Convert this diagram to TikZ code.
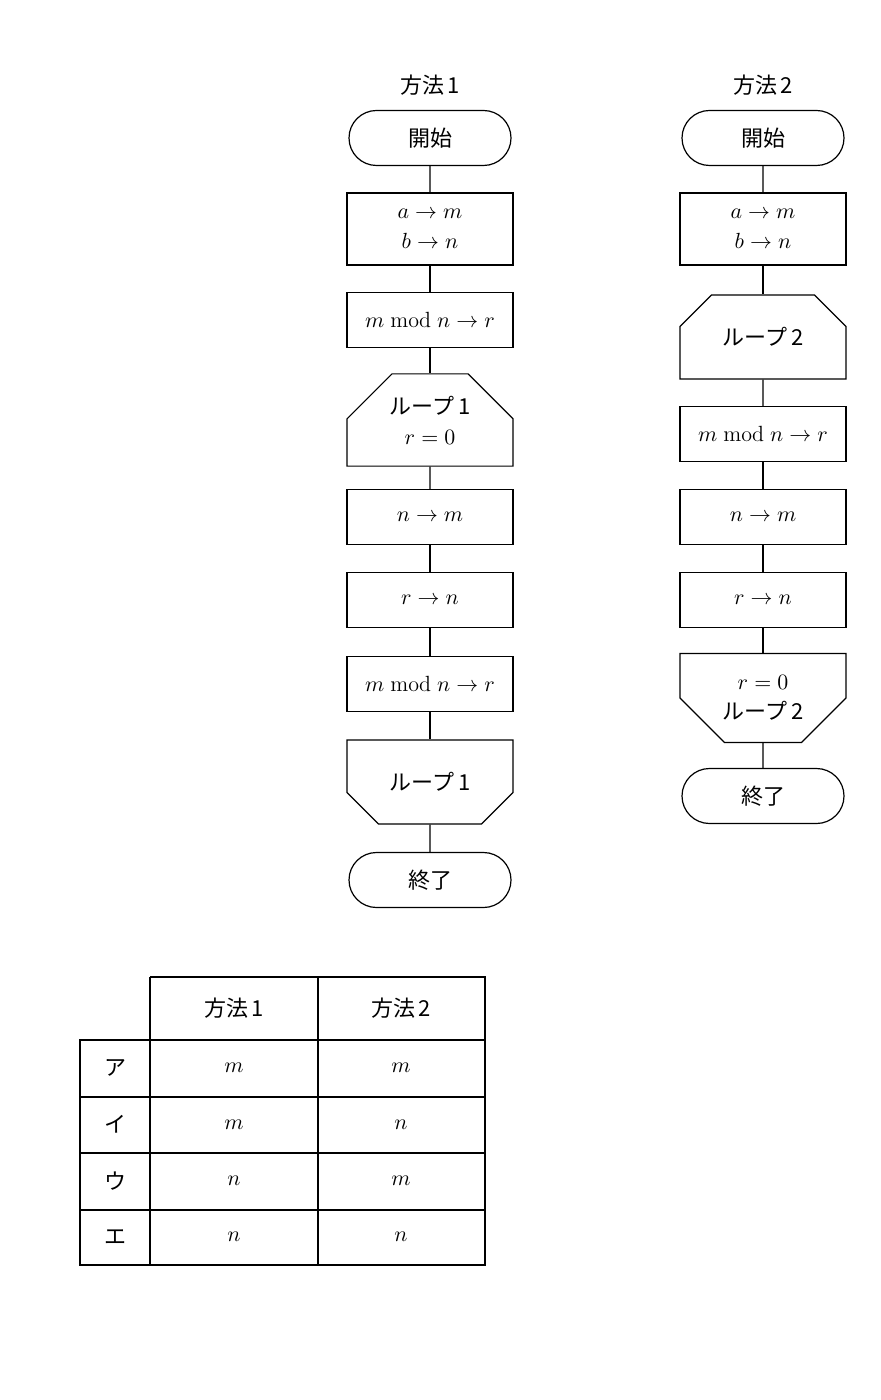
\documentclass[tikz,border=0pt]{standalone}
\usepackage{fontspec}
\newfontfamily\cjk{Noto Sans CJK JP}
\usetikzlibrary{shapes.misc}
\tikzset{
  base/.style={draw, line width=0.6pt, minimum width=83pt, inner sep=1pt, align=center, font=\cjk\fontsize{11}{15}\selectfont},
  term/.style={base, rounded rectangle, minimum height=27.5pt},
  proc/.style={base, rectangle, minimum height=27.5pt},
  loopbeg/.style={base, chamfered rectangle, chamfered rectangle corners={north west,north east}, chamfered rectangle xsep=12.5pt, chamfered rectangle ysep=10pt, minimum height=42pt},
  loopend/.style={base, chamfered rectangle, chamfered rectangle corners={south west,south east}, chamfered rectangle xsep=12.5pt, chamfered rectangle ysep=10pt, minimum height=42pt},
  ttl/.style={font=\cjk\fontsize{11}{14}\selectfont},
  cell/.style={font=\cjk\fontsize{11}{14}\selectfont},
  flow/.style={line width=0.6pt}
}
\begin{document}
\begin{tikzpicture}[x=0.5pt,y=-0.5pt]
  \useasboundingbox (0,0) rectangle (880,1400);

  % method 1
  \node[ttl] (t1) at (430,85) {方法$\,$1};
  \node[term] (s1) at (430,138) {開始};
  \node[proc, minimum height=36pt] (ab1) at (430,229) {$a\to m$\\$b\to n$};
  \node[proc] (md1) at (430,320) {$m\bmod n\to r$};
  \node[loopbeg] (lb1) at (430,420) {ループ$\,$1\\$r=0$};
  \node[proc] (nm1) at (430,517) {$n\to m$};
  \node[proc] (rn1) at (430,600) {$r\to n$};
  \node[proc] (mr1) at (430,684) {$m\bmod n\to r$};
  \node[loopend] (le1) at (430,782) {ループ$\,$1};
  \node[term] (e1) at (430,880) {終了};
  \foreach \a/\b in {s1/ab1,ab1/md1,md1/lb1,lb1/nm1,nm1/rn1,rn1/mr1,mr1/le1,le1/e1}
    \draw[flow] (\a) -- (\b);

  % method 2
  \node[ttl] (t2) at (763,85) {方法$\,$2};
  \node[term] (s2) at (763,138) {開始};
  \node[proc, minimum height=36pt] (ab2) at (763,229) {$a\to m$\\$b\to n$};
  \node[loopbeg] (lb2) at (763,337) {ループ$\,$2};
  \node[proc] (md2) at (763,434) {$m\bmod n\to r$};
  \node[proc] (nm2) at (763,517) {$n\to m$};
  \node[proc] (rn2) at (763,600) {$r\to n$};
  \node[loopend] (le2) at (763,698) {$r=0$\\ループ$\,$2};
  \node[term] (e2) at (763,796) {終了};
  \foreach \a/\b in {s2/ab2,ab2/lb2,lb2/md2,md2/nm2,nm2/rn2,rn2/le2,le2/e2}
    \draw[flow] (\a) -- (\b);

  % table
  \draw[line width=0.6pt] (150,977) -- (485,977) -- (485,1265) -- (80,1265) -- (80,1040) -- (485,1040);
  \draw[line width=0.6pt] (150,977) -- (150,1265);
  \draw[line width=0.6pt] (318,977) -- (318,1265);
  \foreach \y in {1097,1153,1210}
    \draw[line width=0.6pt] (80,\y) -- (485,\y);
  \node[cell] (h1) at (234,1008) {方法$\,$1};
  \node[cell] (h2) at (401,1008) {方法$\,$2};
  \foreach \k/\c/\p/\q [count=\i] in {ア/m/m/m, イ/i/m/n, ウ/u/n/m, エ/e/n/n} {
    \pgfmathsetmacro\yy{1040+(\i-0.5)*56.25}
    \node[cell] (r\i) at (115,\yy) {\k};
    \node[cell] (p\i) at (234,\yy) {$\p$};
    \node[cell] (q\i) at (401,\yy) {$\q$};
  }
\end{tikzpicture}
\end{document}
